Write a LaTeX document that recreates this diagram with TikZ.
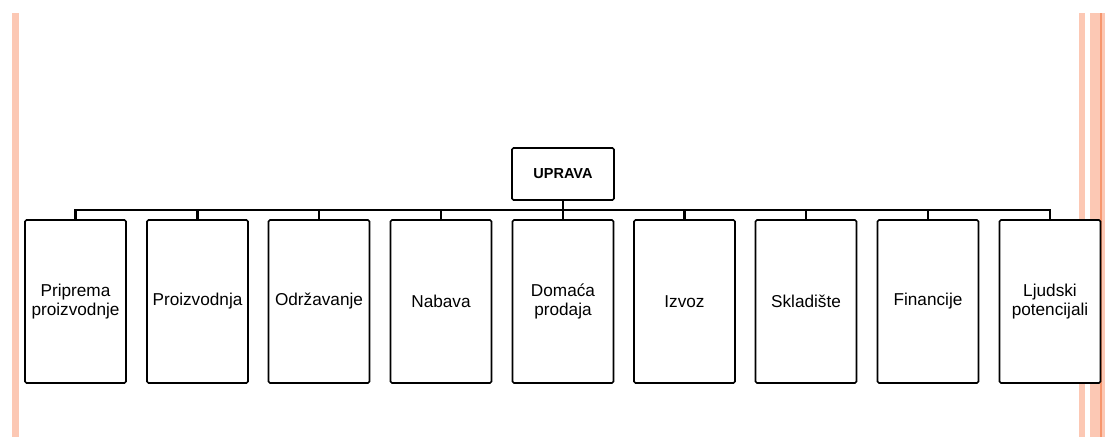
\documentclass[tikz,border=0pt]{standalone}
\usepackage{fontspec}
\setmainfont{Liberation Sans}
\definecolor{stripe}{RGB}{252,200,180}
\definecolor{stripedark}{RGB}{246,150,110}
\tikzset{
  unit/.style={draw,fill=white,line width=1.6pt,rounded corners=1.5pt,minimum width=101pt,
    minimum height=163pt,align=center,inner sep=2pt,font=\fontsize{17.2}{19}\selectfont},
  head/.style={draw,fill=white,line width=1.6pt,rounded corners=1.5pt,minimum width=102pt,
    minimum height=52pt,font=\bfseries\fontsize{14.5}{16}\selectfont},
  bus/.style={line width=2.2pt}
}
\begin{document}
\begin{tikzpicture}[x=1pt,y=-1pt]
  \useasboundingbox (0,0) rectangle (1110,437);
  % page stripes
  \fill[stripe] (12,13) rectangle (19,437);
  \fill[stripe] (1079,13) rectangle (1085,437);
  \fill[stripe] (1090,13) rectangle (1105,437);
  \fill[stripedark] (1099.5,13) rectangle (1101.5,437);
  \node[head] (uprava) at (563,174) {UPRAVA};
  \node[unit] (1) at (75.5,301.5) {Priprema\\proizvodnje};
  \node[unit] (2) at (197.5,301.5) {Proizvodnja};
  \node[unit] (3) at (319,301.5) {Održavanje};
  \node[unit] (4) at (441,301.5) {Nabava};
  \node[unit] (5) at (563,301.5) {Domaća\\prodaja};
  \node[unit] (6) at (684.5,301.5) {Izvoz};
  \node[unit] (7) at (806,301.5) {Skladište};
  \node[unit] (8) at (928,301.5) {Financije};
  \node[unit] (9) at (1050,301.5) {Ljudski\\potencijali};
  \coordinate (bus) at (563,210);
  \draw[bus] (uprava.south) -- (bus);
  \draw[bus] (1.north) |- (bus) -| (9.north);
  \draw[bus] (2.north) -- (2.north |- bus);
  \draw[bus] (3.north) -- (3.north |- bus);
  \draw[bus] (4.north) -- (4.north |- bus);
  \draw[bus] (5.north) -- (5.north |- bus);
  \draw[bus] (6.north) -- (6.north |- bus);
  \draw[bus] (7.north) -- (7.north |- bus);
  \draw[bus] (8.north) -- (8.north |- bus);
\end{tikzpicture}
\end{document}
